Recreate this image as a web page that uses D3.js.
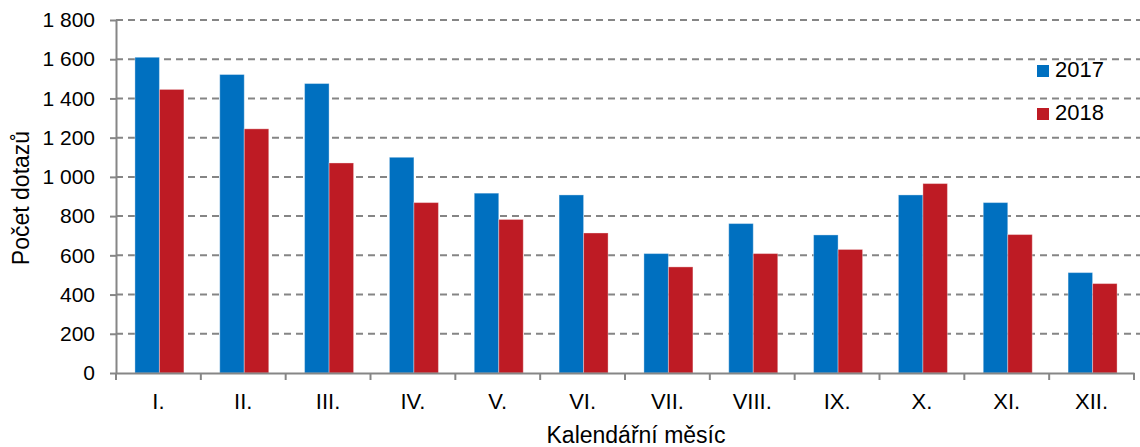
<!DOCTYPE html>
<html>
<head>
<meta charset="utf-8">
<script src="https://cdn.jsdelivr.net/npm/d3@7"></script>
<style>
  body { margin: 0; background: #fff; }
  text { font-family: "Liberation Sans", Arial, sans-serif; fill: #000; }
</style>
</head>
<body>
<svg id="chart" width="1140" height="447"></svg>
<script>
  'use strict';

  var months = ['I.', 'II.', 'III.', 'IV.', 'V.', 'VI.', 'VII.', 'VIII.', 'IX.', 'X.', 'XI.', 'XII.'];
  var values2017 = [1610, 1522, 1476, 1100, 917, 908, 609, 762, 704, 908, 869, 512];
  var values2018 = [1446, 1245, 1071, 869, 783, 714, 541, 609, 630, 966, 706, 456];
  var seriesNames = ['2017', '2018'];
  var seriesColors = ['#0070C0', '#BE1B24'];
  var yTicks = [0, 200, 400, 600, 800, 1000, 1200, 1400, 1600, 1800];

  var svg = d3.select('#chart');
  var plotLeft = 116, plotRight = 1134, plotTop = 20, plotBottom = 373;

  var xScale = d3.scaleBand().domain(months).range([plotLeft, plotRight]);
  var xInner = d3.scaleBand().domain(seriesNames).range([0, 49]);
  var yScale = d3.scaleLinear().domain([0, 1800]).range([plotBottom, plotTop]);

  var fmt = function(v) {
    return d3.format(',')(v).replace(/,/g, ' ');
  };

  // grid
  svg.append('g')
    .selectAll('line')
    .data(yTicks.filter(function(d) { return d > 0; }))
    .enter()
    .append('line')
    .attr('x1', plotLeft)
    .attr('x2', 1140)
    .attr('y1', function(d) { return yScale(d); })
    .attr('y2', function(d) { return yScale(d); })
    .attr('stroke', '#858585')
    .attr('stroke-width', 2)
    .attr('stroke-dasharray', '7,5');

  // bars
  var rows = months.map(function(m, i) {
    return { month: m, vals: [values2017[i], values2018[i]] };
  });

  var groups = svg.append('g')
    .selectAll('g')
    .data(rows)
    .enter()
    .append('g')
    .attr('transform', function(d) {
      return 'translate(' + (xScale(d.month) + (xScale.bandwidth() - 49) / 2 + 1) + ',0)';
    });

  groups.selectAll('rect')
    .data(function(d) {
      return d.vals.map(function(v, k) { return { name: seriesNames[k], v: v, k: k }; });
    })
    .enter()
    .append('rect')
    .attr('x', function(d) { return xInner(d.name); })
    .attr('width', xInner.bandwidth())
    .attr('y', function(d) { return yScale(d.v); })
    .attr('height', function(d) { return plotBottom - yScale(d.v); })
    .attr('fill', function(d) { return seriesColors[d.k]; })
    .attr('stroke', 'rgba(255,255,255,0.35)')
    .attr('stroke-width', 1);

  // y axis
  var yAxis = svg.append('g')
    .attr('transform', 'translate(' + plotLeft + ',0)')
    .call(d3.axisLeft(yScale).tickValues(yTicks).tickFormat(fmt).tickSize(6).tickPadding(15).tickSizeOuter(0));
  yAxis.select('.domain').attr('stroke', '#868686').attr('stroke-width', 2);
  yAxis.selectAll('.tick line').attr('stroke', '#868686').attr('stroke-width', 2);
  yAxis.selectAll('.tick text')
    .style('font-size', '21px')
    .style('font-family', '"Liberation Sans", Arial, sans-serif')
    .attr('fill', '#000');

  // x axis
  var xAxis = svg.append('g')
    .attr('transform', 'translate(0,' + plotBottom + ')')
    .call(d3.axisBottom(xScale).tickSize(0).tickPadding(20));
  xAxis.select('.domain').attr('stroke', '#868686').attr('stroke-width', 2);
  xAxis.selectAll('.tick text')
    .style('font-size', '22px')
    .style('font-family', '"Liberation Sans", Arial, sans-serif')
    .attr('fill', '#000');

  // x ticks between categories
  var sepData = months.map(function(m) { return xScale(m); }).concat([plotRight]);
  svg.append('g')
    .selectAll('line')
    .data(sepData)
    .enter()
    .append('line')
    .attr('x1', function(d) { return d; })
    .attr('x2', function(d) { return d; })
    .attr('y1', plotBottom)
    .attr('y2', plotBottom + 7)
    .attr('stroke', '#868686')
    .attr('stroke-width', 2);

  // axis titles
  svg.append('text')
    .attr('x', 636)
    .attr('y', 443)
    .attr('text-anchor', 'middle')
    .style('font-size', '23px')
    .text('Kalendářní měsíc');

  svg.append('text')
    .attr('transform', 'translate(29,198) rotate(-90)')
    .attr('text-anchor', 'middle')
    .style('font-size', '23px')
    .text('Počet dotazů');

  // legend
  var legend = svg.append('g')
    .selectAll('g')
    .data(seriesNames)
    .enter()
    .append('g')
    .attr('transform', function(d, i) { return 'translate(1037,' + (65 + i * 43) + ')'; });

  legend.append('rect')
    .attr('width', 12)
    .attr('height', 12)
    .attr('fill', function(d, i) { return seriesColors[i]; });

  legend.append('text')
    .attr('x', 18)
    .attr('y', 12)
    .style('font-size', '22px')
    .text(function(d) { return d; });
</script>
</body>
</html>
